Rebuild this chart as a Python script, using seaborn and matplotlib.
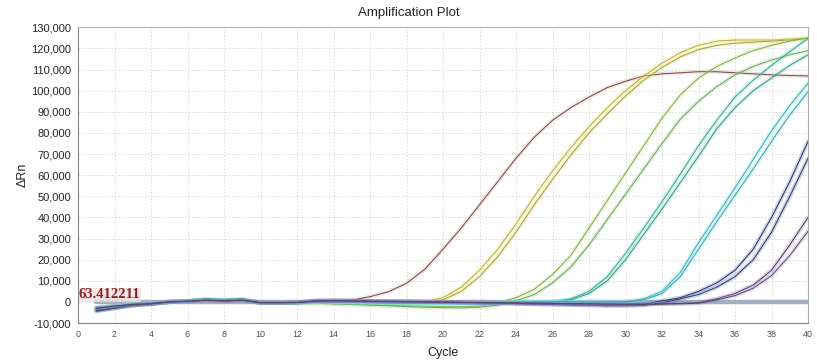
import numpy as np
import pandas as pd
import matplotlib
matplotlib.use("Agg")
import matplotlib.pyplot as plt
import matplotlib.patheffects as pe
from matplotlib.ticker import FuncFormatter, MultipleLocator
import seaborn as sns

# cycles 1..40
cycles = list(range(1, 41))

brown = [-3000, -2000, -1200, -800, 0, 300, 800, 500, 800, -300,
         -300, -200, 400, 400, 800, 2500, 4800, 8800, 15500, 25000,
         35000, 46000, 57000, 68000, 78000, 86000, 92000, 97000, 101500, 104500,
         107000, 108000, 108500, 109000, 109000, 108500, 108000, 107500, 107200, 107000]
yellow_a = [-3000, -2000, -1200, -800, 0, 300, 800, 500, 800, -300,
            -300, -200, 300, 200, 0, -300, -500, -600, 0, 2000,
            7000, 15000, 25000, 37000, 50000, 62000, 73000, 83000, 92000, 100000,
            107000, 113000, 118000, 121500, 123500, 124000, 124000, 124000, 124500, 125000]
yellow_b = [-3200, -2200, -1300, -800, 0, 300, 800, 500, 800, -300,
            -300, -200, 300, 200, 0, -300, -500, -700, -500, 1000,
            5000, 12000, 21500, 33000, 46000, 58000, 69500, 80000, 89000, 97500,
            105000, 111000, 116000, 119500, 121500, 122500, 123000, 123500, 124000, 124800]
green_a = [-3000, -2000, -1200, -800, 0, 300, 800, 500, 800, -300,
           -300, -200, -500, -800, -1000, -1300, -1600, -1800, -2000, -2200,
           -2200, -2000, -500, 2000, 6000, 13000, 22000, 35000, 48000, 61000,
           74000, 87000, 98000, 106000, 111500, 115500, 119000, 121500, 123500, 125000]
green_b = [-3000, -2000, -1200, -800, 0, 300, 800, 500, 800, -300,
           -300, -200, -600, -900, -1200, -1500, -1800, -2200, -2500, -2700,
           -2800, -2500, -1500, 500, 3500, 9000, 16500, 27000, 39000, 51000,
           63000, 75000, 86500, 95000, 102000, 107500, 111500, 114500, 117000, 119000]
teal_a = [-3500, -2500, -1500, -800, 0, 400, 1200, 700, 1200, -300,
          -300, -200, 0, 0, -200, -300, -400, -500, -600, -700,
          -700, -600, -500, -300, -100, 0, 1500, 5000, 12000, 23000,
          35000, 47500, 60500, 74000, 86000, 97000, 105000, 112000, 118500, 124800]
teal_b = [-4500, -3000, -1800, -1000, 0, 400, 1200, 700, 1200, -300,
          -300, -200, 0, 0, -200, -300, -400, -500, -600, -700,
          -700, -600, -500, -300, -200, -100, 1000, 4000, 10000, 20000,
          32000, 44000, 56500, 69000, 82000, 92000, 100000, 106000, 112000, 117000]
cyan_a = [-2500, -1800, -1000, -600, 0, 400, 1300, 800, 1300, -300,
          -300, -200, 0, 0, -100, -200, -300, -300, -400, -400,
          -400, -400, -300, -200, -100, 0, 0, 0, 0, 0,
          1500, 5000, 14000, 28000, 41000, 54000, 67500, 81000, 93000, 103500]
cyan_b = [-2800, -2000, -1100, -600, 0, 400, 1300, 800, 1300, -300,
          -300, -200, 0, 0, -100, -200, -300, -300, -400, -400,
          -400, -400, -300, -200, -100, 0, 0, 0, 0, 0,
          1000, 4000, 12000, 25000, 38000, 50500, 63000, 76000, 88500, 99500]
navy_a = [-4000, -2800, -1500, -1000, 0, 300, 800, 500, 800, -400,
          -400, -300, 600, 700, 600, 400, 300, 200, 100, 0,
          -200, -400, -600, -800, -1000, -1200, -1300, -1400, -1500, -1500,
          -1200, 500, 2000, 5000, 9000, 15000, 25000, 40000, 57000, 76000]
navy_b = [-4200, -3000, -1600, -1000, 0, 300, 800, 500, 800, -400,
          -400, -300, 600, 700, 600, 400, 300, 200, 100, 0,
          -200, -400, -600, -800, -1000, -1200, -1400, -1600, -1800, -1800,
          -1600, -500, 1500, 3500, 7000, 12000, 20000, 33000, 50000, 68000]
purple_a = [-3000, -2000, -1200, -800, 0, 300, 800, 500, 800, -300,
            -300, -200, 400, 500, 400, 300, 200, 100, 0, -100,
            -200, -300, -400, -500, -600, -700, -800, -900, -1000, -1000,
            -1000, -900, -700, -300, 1500, 4000, 8000, 15000, 27000, 40000]
purple_b = [-3000, -2000, -1200, -800, 0, 300, 800, 500, 800, -300,
            -300, -200, 400, 500, 400, 300, 200, 100, 0, -100,
            -200, -300, -400, -500, -600, -700, -800, -900, -1000, -1100,
            -1100, -1000, -900, -600, 1000, 3000, 6500, 12500, 22000, 33500]

series = {
    "brown": brown, "yellow_a": yellow_a, "yellow_b": yellow_b,
    "green_a": green_a, "green_b": green_b, "teal_a": teal_a, "teal_b": teal_b,
    "cyan_a": cyan_a, "cyan_b": cyan_b, "navy_a": navy_a, "navy_b": navy_b,
    "purple_a": purple_a, "purple_b": purple_b,
}
halo_colors = {
    "brown": "#d0b0a8", "yellow_a": "#f4ec60", "yellow_b": "#ece070",
    "green_a": "#c0e870", "green_b": "#a0e080", "teal_a": "#60ecc8", "teal_b": "#60e0c0",
    "cyan_a": "#60f0f4", "cyan_b": "#70e8f0", "navy_a": "#6070d0", "navy_b": "#5868b0",
    "purple_a": "#9080c0", "purple_b": "#a090c8",
}
core_colors = {
    "brown": "#7a4040", "yellow_a": "#b0a848", "yellow_b": "#a09848",
    "green_a": "#84a060", "green_b": "#749868", "teal_a": "#4a9888", "teal_b": "#4a8880",
    "cyan_a": "#4aa0a8", "cyan_b": "#4a98a0", "navy_a": "#283058", "navy_b": "#303860",
    "purple_a": "#4a3a5a", "purple_b": "#5a4468",
}
threshold = 63.412211

df = pd.concat([pd.DataFrame({"Cycle": cycles, "dRn": v, "well": k}) for k, v in series.items()])

sns.set_style("white")
plt.rcParams["font.family"] = ["Liberation Sans", "DejaVu Sans"]

fig = plt.figure(figsize=(8.17, 3.63), dpi=100)
ax = fig.add_axes([0.0955, 0.110, 0.8935, 0.8146])

sns.lineplot(data=df, x="Cycle", y="dRn", hue="well", palette=core_colors,
             legend=False, linewidth=0.7, ax=ax, zorder=3)
for line, key in zip(ax.get_lines(), series.keys()):
    line.set_path_effects([pe.Stroke(linewidth=3, foreground=halo_colors[key], alpha=0.3),
                           pe.Normal()])

# threshold line
ax.axhline(threshold, xmin=1 / 40, xmax=1, color="#a2b0c0", linewidth=3.2, zorder=2)
ax.text(0.05, threshold + 200, "63.412211", color="#8b2020", fontsize=10.5, fontweight="bold",
        family=["Liberation Serif", "DejaVu Serif"], va="bottom", ha="left", zorder=5,
        bbox=dict(facecolor="#f2e0e0", edgecolor="none", pad=0.2, alpha=0.8))

ax.set_xlim(0, 40)
ax.set_ylim(-10000, 130000)
ax.xaxis.set_major_locator(MultipleLocator(2))
ax.yaxis.set_major_locator(MultipleLocator(10000))
ax.yaxis.set_major_formatter(FuncFormatter(lambda v, p: f"{int(v):,}"))
ax.grid(True, color="#d8d8d8", linestyle=(0, (2, 2)), linewidth=0.6, zorder=0)
ax.tick_params(axis="y", labelsize=8, length=3, color="#808080", pad=2)
ax.tick_params(axis="x", labelsize=6.5, length=3, color="#808080", labelcolor="#505050", pad=2)
for s in ["left", "bottom"]:
    ax.spines[s].set_color("#808080")
for s in ["top", "right"]:
    ax.spines[s].set_color("#b0b0b0")

fig.text(0.5, 0.965, "Amplification Plot", fontsize=9.5, ha="center", va="center")
ax.set_xlabel("Cycle", fontsize=9, labelpad=6)
ax.set_ylabel("ΔRn", fontsize=9, labelpad=2)

fig.savefig("out.png", dpi=100)
